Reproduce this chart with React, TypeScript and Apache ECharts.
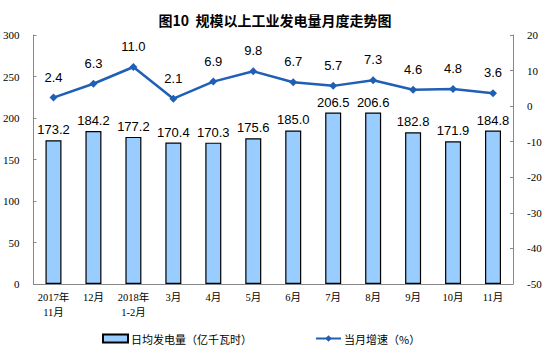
import React, { useEffect, useRef } from "react";
import * as echarts from "echarts";

const categories = ["2017年\n11月", "12月", "2018年\n1-2月", "3月", "4月", "5月", "6月", "7月", "8月", "9月", "10月", "11月"];
const dailyOutput = [173.2, 184.2, 177.2, 170.4, 170.3, 175.6, 185.0, 206.5, 206.6, 182.8, 171.9, 184.8];
const growth = [2.4, 6.3, 11.0, 2.1, 6.9, 9.8, 6.7, 5.7, 7.3, 4.6, 4.8, 3.6];
const barName = "日均发电量（亿千瓦时）";
const lineName = "当月增速（%）";
const title = "图10  规模以上工业发电量月度走势图";

export default function App() {
  const ref = useRef<HTMLDivElement>(null);
  useEffect(() => {
    const chart = echarts.init(ref.current!, null, { renderer: "svg" });
    const axisFont = { fontFamily: "'Liberation Serif', 'Noto Sans CJK SC', serif", fontSize: 11, color: "#000" };
    chart.setOption({
      animation: false,
      backgroundColor: "#fff",
      title: {
        text: title,
        left: 270,
        textAlign: "center",
        top: 8,
        textStyle: { fontFamily: "'Noto Sans CJK SC', sans-serif", fontSize: 14, fontWeight: "bold", color: "#000" },
      },
      grid: { left: 33, right: 34, top: 35, bottom: 69 },
      legend: {
        top: 328,
        left: 97,
        itemGap: 63,
        itemWidth: 25,
        itemHeight: 8,
        textStyle: { fontFamily: "'Noto Sans CJK SC', sans-serif", fontSize: 11, color: "#000", padding: [0, 0, 0, -2] },
        data: [
          { name: barName, icon: "rect" },
          { name: lineName },
        ],
      },
      xAxis: {
        type: "category",
        data: categories,
        axisLine: { lineStyle: { color: "#888" } },
        axisTick: { inside: true, length: 3, lineStyle: { color: "#888" } },
        axisLabel: { ...axisFont, fontSize: 10.5, lineHeight: 15, margin: 6, interval: 0 },
      },
      yAxis: [
        {
          type: "value",
          min: 0,
          max: 300,
          interval: 50,
          splitLine: { show: false },
          axisLine: { show: true, lineStyle: { color: "#888" } },
          axisTick: { show: true, inside: true, length: 3, lineStyle: { color: "#888" } },
          axisLabel: { ...axisFont, margin: 14 },
        },
        {
          type: "value",
          min: -50,
          max: 20,
          interval: 10,
          splitLine: { show: false },
          axisLine: { show: true, lineStyle: { color: "#888" } },
          axisTick: { show: true, inside: true, length: 3, lineStyle: { color: "#888" } },
          axisLabel: { ...axisFont, margin: 14 },
        },
      ],
      series: [
        {
          name: barName,
          type: "bar",
          data: dailyOutput,
          barWidth: 16,
          itemStyle: { color: "#99CCFF", borderColor: "#000", borderWidth: 1.2 },
          label: {
            show: true,
            position: "top",
            distance: 4,
            formatter: (p: any) => p.value.toFixed(1),
            fontFamily: "'Liberation Sans', Arial, sans-serif",
            fontSize: 13,
            color: "#000",
          },
        },
        {
          name: lineName,
          type: "line",
          yAxisIndex: 1,
          data: growth,
          symbol: "diamond",
          symbolSize: 8,
          lineStyle: { color: "#1F5FB5", width: 2.5 },
          itemStyle: { color: "#1F5FB5" },
          label: {
            show: true,
            position: "top",
            distance: 10,
            formatter: (p: any) => p.value.toFixed(1),
            fontFamily: "'Liberation Sans', Arial, sans-serif",
            fontSize: 13,
            color: "#000",
          },
        },
      ],
    });
    return () => chart.dispose();
  }, []);
  return <div ref={ref} style={{ width: 547, height: 353, position: "absolute", left: 0, top: 0 }} />;
}
